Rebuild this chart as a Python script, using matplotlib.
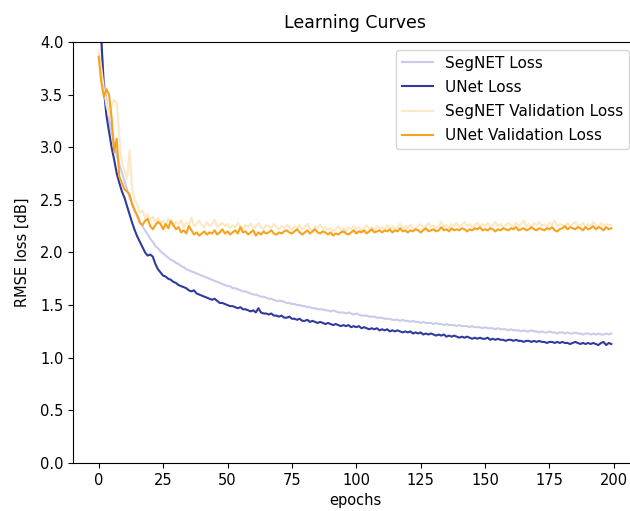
import numpy as np
import matplotlib
matplotlib.use("Agg")
import matplotlib.pyplot as plt

# per-epoch RMSE loss, 200 epochs
segnet_loss = [
    4.40, 3.95, 3.65, 3.45, 3.28, 3.15, 3.02, 2.92, 2.84, 2.76,
    2.68, 2.60, 2.52, 2.45, 2.39, 2.34, 2.29, 2.25, 2.21, 2.17,
    2.13, 2.10, 2.06, 2.04, 2.01, 1.99, 1.97, 1.95, 1.93, 1.92,
    1.90, 1.89, 1.87, 1.86, 1.84, 1.83, 1.82, 1.81, 1.80, 1.79,
    1.78, 1.77, 1.76, 1.75, 1.74, 1.73, 1.72, 1.71, 1.70, 1.69,
    1.68, 1.68, 1.66, 1.66, 1.65, 1.64, 1.63, 1.63, 1.62, 1.61,
    1.60, 1.60, 1.59, 1.58, 1.58, 1.57, 1.56, 1.56, 1.55, 1.54,
    1.54, 1.54, 1.53, 1.52, 1.52, 1.51, 1.51, 1.50, 1.50, 1.49,
    1.49, 1.48, 1.48, 1.47, 1.47, 1.46, 1.46, 1.46, 1.45, 1.45,
    1.44, 1.45, 1.44, 1.43, 1.43, 1.43, 1.42, 1.43, 1.42, 1.41,
    1.42, 1.41, 1.40, 1.40, 1.40, 1.39, 1.39, 1.39, 1.38, 1.38,
    1.38, 1.37, 1.37, 1.37, 1.36, 1.36, 1.36, 1.35, 1.36, 1.35,
    1.35, 1.34, 1.35, 1.34, 1.34, 1.33, 1.34, 1.33, 1.33, 1.33,
    1.32, 1.33, 1.32, 1.32, 1.31, 1.32, 1.31, 1.31, 1.31, 1.30,
    1.31, 1.30, 1.30, 1.30, 1.29, 1.30, 1.29, 1.29, 1.29, 1.28,
    1.29, 1.28, 1.28, 1.28, 1.27, 1.28, 1.27, 1.27, 1.27, 1.26,
    1.27, 1.26, 1.26, 1.26, 1.25, 1.26, 1.25, 1.25, 1.26, 1.25,
    1.25, 1.24, 1.25, 1.24, 1.24, 1.25, 1.24, 1.24, 1.23, 1.24,
    1.24, 1.23, 1.24, 1.23, 1.23, 1.24, 1.23, 1.23, 1.22, 1.23,
    1.23, 1.22, 1.23, 1.22, 1.23, 1.22, 1.22, 1.23, 1.22, 1.23,
]

unet_loss = [
    4.60, 4.05, 3.55, 3.30, 3.15, 3.00, 2.88, 2.75, 2.66, 2.58,
    2.52, 2.44, 2.36, 2.28, 2.21, 2.15, 2.10, 2.05, 2.00, 1.97,
    1.98, 1.96, 1.89, 1.84, 1.81, 1.78, 1.77, 1.75, 1.74, 1.72,
    1.71, 1.69, 1.68, 1.67, 1.66, 1.64, 1.63, 1.64, 1.61, 1.60,
    1.59, 1.58, 1.57, 1.56, 1.55, 1.56, 1.54, 1.52, 1.52, 1.51,
    1.50, 1.49, 1.49, 1.48, 1.47, 1.48, 1.46, 1.46, 1.45, 1.44,
    1.45, 1.43, 1.47, 1.43, 1.42, 1.42, 1.41, 1.42, 1.40, 1.40,
    1.39, 1.40, 1.38, 1.38, 1.39, 1.37, 1.37, 1.36, 1.37, 1.35,
    1.35, 1.36, 1.34, 1.35, 1.34, 1.33, 1.34, 1.33, 1.32, 1.33,
    1.32, 1.31, 1.32, 1.31, 1.30, 1.31, 1.30, 1.31, 1.29, 1.30,
    1.29, 1.30, 1.28, 1.29, 1.28, 1.27, 1.28, 1.27, 1.28, 1.26,
    1.27, 1.26, 1.27, 1.25, 1.26, 1.25, 1.26, 1.25, 1.24, 1.25,
    1.24, 1.25, 1.23, 1.24, 1.23, 1.24, 1.22, 1.23, 1.22, 1.23,
    1.22, 1.21, 1.22, 1.21, 1.22, 1.20, 1.21, 1.20, 1.21, 1.20,
    1.19, 1.20, 1.19, 1.20, 1.19, 1.18, 1.19, 1.18, 1.19, 1.18,
    1.18, 1.19, 1.17, 1.18, 1.17, 1.18, 1.17, 1.17, 1.16, 1.17,
    1.17, 1.16, 1.17, 1.16, 1.16, 1.15, 1.16, 1.16, 1.15, 1.16,
    1.15, 1.16, 1.15, 1.15, 1.14, 1.15, 1.15, 1.14, 1.15, 1.14,
    1.15, 1.14, 1.14, 1.13, 1.14, 1.15, 1.14, 1.13, 1.14, 1.13,
    1.14, 1.13, 1.14, 1.13, 1.12, 1.14, 1.15, 1.12, 1.14, 1.13,
]

segnet_val = [
    3.90, 3.75, 3.55, 3.40, 3.30, 3.38, 3.45, 3.42, 3.10, 2.85,
    2.78, 2.70, 2.97, 2.60, 2.50, 2.45, 2.38, 2.40, 2.33, 2.36,
    2.31, 2.34, 2.29, 2.33, 2.28, 2.30, 2.26, 2.32, 2.28, 2.25,
    2.29, 2.27, 2.31, 2.24, 2.28, 2.26, 2.33, 2.25, 2.27, 2.30,
    2.26, 2.24, 2.29, 2.25, 2.27, 2.31, 2.24, 2.26, 2.28, 2.25,
    2.27, 2.23, 2.26, 2.24, 2.28, 2.25, 2.22, 2.26, 2.24, 2.27,
    2.23, 2.25, 2.28, 2.24, 2.22, 2.26, 2.25, 2.23, 2.27, 2.24,
    2.22, 2.25, 2.23, 2.26, 2.24, 2.21, 2.25, 2.23, 2.26, 2.22,
    2.24, 2.27, 2.23, 2.21, 2.25, 2.23, 2.26, 2.22, 2.24, 2.21,
    2.23, 2.20, 2.22, 2.25, 2.21, 2.23, 2.20, 2.24, 2.22, 2.25,
    2.22, 2.24, 2.21, 2.23, 2.26, 2.22, 2.24, 2.21, 2.25, 2.23,
    2.24, 2.22, 2.26, 2.23, 2.25, 2.22, 2.24, 2.27, 2.23, 2.25,
    2.23, 2.26, 2.24, 2.22, 2.25, 2.27, 2.23, 2.25, 2.28, 2.24,
    2.26, 2.23, 2.25, 2.29, 2.24, 2.26, 2.23, 2.27, 2.25, 2.28,
    2.24, 2.26, 2.29, 2.25, 2.27, 2.24, 2.26, 2.28, 2.25, 2.27,
    2.25, 2.28, 2.24, 2.26, 2.29, 2.25, 2.27, 2.24, 2.26, 2.28,
    2.26, 2.24, 2.28, 2.25, 2.27, 2.30, 2.25, 2.27, 2.24, 2.28,
    2.26, 2.29, 2.25, 2.27, 2.24, 2.28, 2.26, 2.30, 2.25, 2.27,
    2.26, 2.24, 2.28, 2.25, 2.27, 2.29, 2.25, 2.26, 2.28, 2.24,
    2.27, 2.25, 2.29, 2.26, 2.24, 2.28, 2.25, 2.27, 2.26, 2.26,
]

unet_val = [
    3.86, 3.62, 3.48, 3.55, 3.50, 3.28, 2.95, 3.08, 2.72, 2.66,
    2.60, 2.58, 2.55, 2.46, 2.40, 2.35, 2.28, 2.26, 2.30, 2.32,
    2.25, 2.22, 2.26, 2.29, 2.27, 2.22, 2.27, 2.23, 2.30, 2.26,
    2.22, 2.24, 2.19, 2.21, 2.18, 2.25, 2.21, 2.17, 2.19, 2.16,
    2.18, 2.20, 2.17, 2.19, 2.18, 2.21, 2.17, 2.19, 2.22, 2.18,
    2.20, 2.17, 2.19, 2.21, 2.18, 2.24, 2.19, 2.20, 2.17, 2.19,
    2.21, 2.16, 2.19, 2.17, 2.20, 2.18, 2.19, 2.21, 2.18, 2.17,
    2.19, 2.18, 2.20, 2.21, 2.19, 2.18, 2.20, 2.22, 2.19, 2.17,
    2.19, 2.21, 2.18, 2.20, 2.22, 2.19, 2.18, 2.20, 2.19, 2.17,
    2.19, 2.16, 2.18, 2.17, 2.19, 2.20, 2.18, 2.17, 2.19, 2.21,
    2.18, 2.20, 2.19, 2.21, 2.18, 2.20, 2.22, 2.19, 2.20, 2.21,
    2.19, 2.21, 2.20, 2.22, 2.19, 2.21, 2.20, 2.23, 2.20, 2.21,
    2.19, 2.21, 2.20, 2.22, 2.21, 2.19, 2.21, 2.23, 2.20, 2.21,
    2.22, 2.20, 2.21, 2.24, 2.21, 2.22, 2.20, 2.23, 2.21, 2.22,
    2.21, 2.23, 2.22, 2.20, 2.22, 2.21, 2.23, 2.22, 2.24, 2.21,
    2.22, 2.21, 2.23, 2.22, 2.20, 2.22, 2.21, 2.23, 2.22, 2.21,
    2.23, 2.22, 2.24, 2.21, 2.22, 2.23, 2.21, 2.22, 2.24, 2.22,
    2.21, 2.23, 2.22, 2.21, 2.23, 2.22, 2.24, 2.21, 2.20, 2.22,
    2.23, 2.25, 2.22, 2.24, 2.23, 2.22, 2.24, 2.23, 2.21, 2.24,
    2.22, 2.23, 2.25, 2.22, 2.24, 2.23, 2.21, 2.24, 2.22, 2.23,
]

epochs = np.arange(len(unet_loss))

plt.rcParams['font.size'] = 10.5

fig = plt.figure(figsize=(6.3, 5.11), dpi=100)
# axes run a little past the right edge of the canvas
ax = fig.add_axes([0.116, 0.094, 0.895, 0.824])

ax.plot(epochs, segnet_loss, color='#c9cbec', label='SegNET Loss')
ax.plot(epochs, unet_loss, color='#2f3b9c', label='UNet Loss')
ax.plot(epochs, segnet_val, color='#fde7c4', label='SegNET Validation Loss')
ax.plot(epochs, unet_val, color='#f7a21b', label='UNet Validation Loss')

ax.set_ylim(0, 4)
ax.set_title('Learning Curves', fontsize=12.5, pad=10)
ax.set_xlabel('epochs')
ax.set_ylabel('RMSE loss [dB]', labelpad=7)
ax.legend(loc='upper right', fontsize=11, labelspacing=0.6)

fig.savefig('out.png', dpi=100)
